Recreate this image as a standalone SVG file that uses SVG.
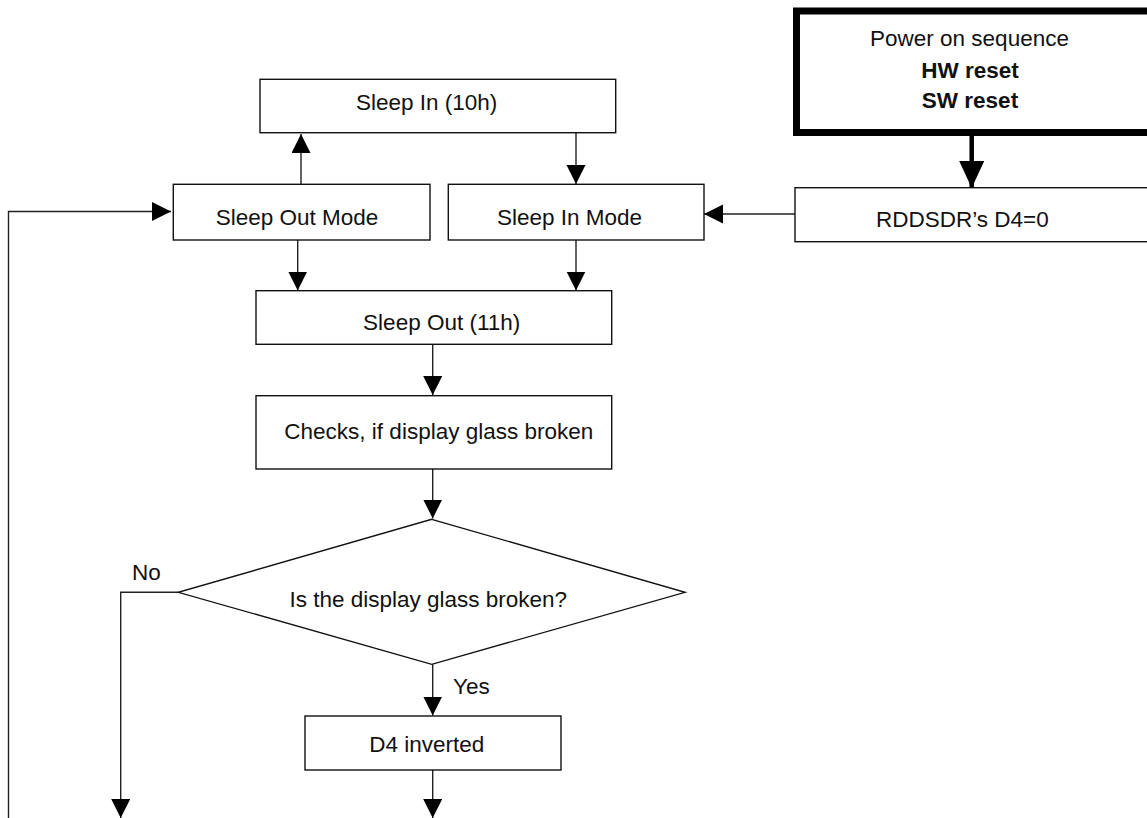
<svg xmlns="http://www.w3.org/2000/svg" width="1147" height="818" viewBox="0 0 1147 818">
<style>
.box{fill:#fff;stroke:#111;stroke-width:1.4}
.thick{fill:#fff;stroke:#000;stroke-width:7}
.t{font-family:"Liberation Sans",Arial,sans-serif;font-size:22.5px;fill:#111;text-anchor:middle}
.b{font-weight:bold}
.l{font-family:"Liberation Sans",Arial,sans-serif;font-size:22.5px;fill:#111}
.c{fill:none;stroke:#222;stroke-width:1.4}
.ct{fill:none;stroke:#000;stroke-width:4.5}
</style>
<defs>
<marker id="ah" markerUnits="userSpaceOnUse" markerWidth="20" markerHeight="20" viewBox="0 0 20 20" refX="19" refY="9.5" orient="auto">
<path d="M0,0 L19,9.5 L0,19 Z" fill="#000"/>
</marker>
<marker id="ahb" markerUnits="userSpaceOnUse" markerWidth="28" markerHeight="26" viewBox="0 0 28 26" refX="27" refY="12.5" orient="auto">
<path d="M0,0 L27,12.5 L0,25 Z" fill="#000"/>
</marker>
</defs>
<rect width="1147" height="818" fill="#fff"/>
<g id="connectors">
<line class="ct" x1="971.7" y1="136" x2="971.7" y2="188" marker-end="url(#ahb)"/>
<line class="c" x1="795" y1="214" x2="704" y2="214" marker-end="url(#ah)"/>
<line class="c" x1="301" y1="184.3" x2="301" y2="134" marker-end="url(#ah)"/>
<line class="c" x1="576" y1="132.7" x2="576" y2="184" marker-end="url(#ah)"/>
<line class="c" x1="297.7" y1="240" x2="297.7" y2="290.5" marker-end="url(#ah)"/>
<line class="c" x1="576" y1="240" x2="576" y2="290.5" marker-end="url(#ah)"/>
<line class="c" x1="432.7" y1="344.3" x2="432.7" y2="395" marker-end="url(#ah)"/>
<line class="c" x1="432.7" y1="469" x2="432.7" y2="518.5" marker-end="url(#ah)"/>
<line class="c" x1="432.7" y1="664.3" x2="432.7" y2="715.5" marker-end="url(#ah)"/>
<line class="c" x1="432.7" y1="770" x2="432.7" y2="818" marker-end="url(#ah)"/>
<polyline class="c" points="178.3,592.3 120.7,592.3 120.7,818" marker-end="url(#ah)"/>
<polyline class="c" points="8.5,818 8.5,211.5 171,211.5" marker-end="url(#ah)"/>
<text class="l" x="132" y="580">No</text>
<text class="l" x="453" y="694.3">Yes</text>
</g>
<g id="power">
<rect class="thick" x="796.5" y="11" width="400" height="121.5"/>
<text class="t" x="969.5" y="46">Power on sequence</text>
<text class="t b" x="970" y="78">HW reset</text>
<text class="t b" x="970" y="108">SW reset</text>
</g>
<g id="rddsdr">
<rect class="box" x="795" y="187.7" width="400" height="54"/>
<text class="t" x="962.3" y="227">RDDSDR’s D4=0</text>
</g>
<g id="sleepin10">
<rect class="box" x="260" y="79.3" width="355.7" height="53.4"/>
<text class="t" x="426.7" y="110">Sleep In (10h)</text>
</g>
<g id="sleepoutmode">
<rect class="box" x="173.3" y="184.3" width="256.7" height="55.7"/>
<text class="t" x="297" y="225">Sleep Out Mode</text>
</g>
<g id="sleepinmode">
<rect class="box" x="448.3" y="184.3" width="255.7" height="55.7"/>
<text class="t" x="569.5" y="225">Sleep In Mode</text>
</g>
<g id="sleepout11">
<rect class="box" x="256" y="290.7" width="355.7" height="53.6"/>
<text class="t" x="441.7" y="330">Sleep Out (11h)</text>
</g>
<g id="checks">
<rect class="box" x="256" y="395.7" width="355.7" height="73.3"/>
<text class="t" x="438.8" y="439">Checks, if display glass broken</text>
</g>
<g id="decision">
<polygon class="box" points="431.7,519.3 685,592.3 431.7,664.3 178.3,592.3"/>
<text class="t" x="428.3" y="606.7">Is the display glass broken?</text>
</g>
<g id="d4inv">
<rect class="box" x="305" y="716" width="256" height="54"/>
<text class="t" x="426.7" y="752">D4 inverted</text>
</g>
</svg>
